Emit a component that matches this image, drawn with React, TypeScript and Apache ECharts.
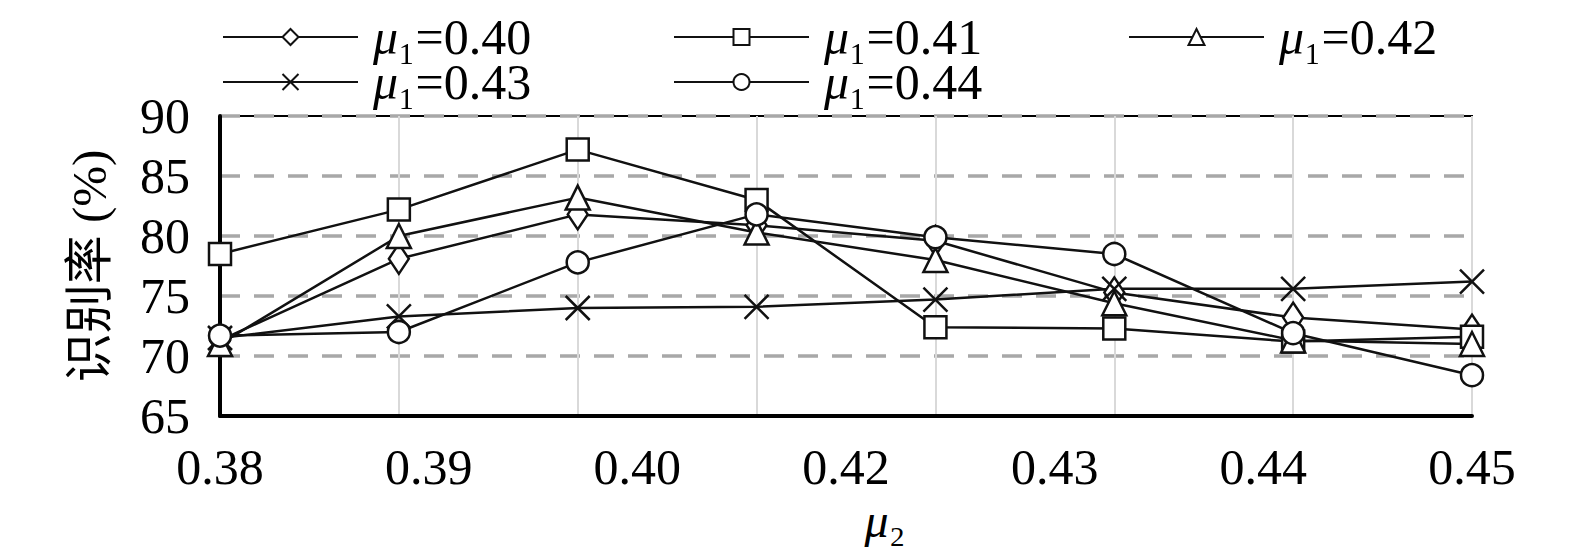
import { useEffect, useRef } from "react";
import * as echarts from "echarts";

// 8 measured points along x, but the printed axis only carries 7 labels
const pointIds = ["1", "2", "3", "4", "5", "6", "7", "8"];
const mu2Labels = ["0.38", "0.39", "0.40", "0.42", "0.43", "0.44", "0.45"];
const yTicks = { min: 65, max: 90, step: 5 };

const mu1Values = ["0.40", "0.41", "0.42", "0.43", "0.44"];

const rate040 = [71.3, 78.1, 81.8, 80.9, 79.6, 75.3, 73.2, 72.2];
const rate041 = [78.5, 82.2, 87.2, 83.0, 72.4, 72.3, 71.2, 71.6];
const rate042 = [71.0, 80.0, 83.2, 80.3, 78.0, 74.4, 71.3, 71.0];
const rate043 = [71.5, 73.3, 74.0, 74.1, 74.7, 75.6, 75.6, 76.2];
const rate044 = [71.7, 72.0, 77.8, 81.8, 79.9, 78.5, 71.9, 68.4];

const SERIF = "'Liberation Serif', 'DejaVu Serif', serif";
const CROSS = "path://M0,0L20,20M20,0L0,20";

export default function App() {
  const chartRef = useRef<HTMLDivElement>(null);

  useEffect(() => {
    if (!chartRef.current) return;
    const chart = echarts.init(chartRef.current, null, { renderer: "svg" });

    const rates = [rate040, rate041, rate042, rate043, rate044];
    const symbols: any[] = ["diamond", "rect", "triangle", CROSS, "circle"];
    const sizes: any[] = [[20, 30], 22, [24, 24], [24, 24], 22];
    const names = mu1Values.map((v) => `μ₁=${v}`);

    const richMu = {
      i: { fontFamily: SERIF, fontStyle: "italic", fontSize: 50, color: "#000" },
      n: { fontFamily: SERIF, fontSize: 50, color: "#000" },
    };

    const legendPos = [
      [222, 12],
      [673, 12],
      [1128, 12],
      [222, 57],
      [673, 57],
    ];

    chart.setOption({
      animation: false,
      backgroundColor: "#fff",
      legend: names.map((name, i) => ({
        data: [name],
        left: legendPos[i][0],
        top: legendPos[i][1],
        padding: 0,
        itemWidth: 135,
        itemHeight: 20,
        formatter: (n: string) => `{i|μ}{n|${n.slice(1)}}`,
        textStyle: { color: "#000", padding: [0, 0, 0, 10], rich: richMu },
      })),
      grid: {
        left: 220,
        right: 103,
        top: 116,
        bottom: 139,
        show: true,
        borderColor: "#000",
        borderWidth: 2,
        backgroundColor: "transparent",
      },
      xAxis: [
        {
          type: "category",
          data: pointIds,
          boundaryGap: false,
          axisLine: { show: true, lineStyle: { color: "#000", width: 4 } },
          axisTick: { show: false },
          axisLabel: { show: false },
          splitLine: { show: true, lineStyle: { color: "#d9d9d9", width: 2 } },
        },
        {
          type: "category",
          data: mu2Labels,
          boundaryGap: false,
          position: "bottom",
          axisLine: { show: false },
          axisTick: { show: false },
          splitLine: { show: false },
          axisLabel: { fontFamily: SERIF, fontSize: 50, color: "#000", margin: 26 },
          name: "{i|μ}{n|₂}",
          nameLocation: "middle",
          nameGap: 76,
          nameTextStyle: {
            padding: [0, 0, 0, 78],
            rich: {
              i: { fontFamily: SERIF, fontStyle: "italic", fontSize: 48, color: "#000" },
              n: { fontFamily: SERIF, fontSize: 48, color: "#000" },
            },
          },
        },
      ],
      yAxis: {
        type: "value",
        min: yTicks.min,
        max: yTicks.max,
        interval: yTicks.step,
        axisLine: { show: true, lineStyle: { color: "#000", width: 4 } },
        axisTick: { show: false },
        axisLabel: { fontFamily: SERIF, fontSize: 50, color: "#000", margin: 30 },
        splitLine: {
          show: true,
          lineStyle: { color: "#a8a8a8", width: 3.5, type: [20, 14] },
        },
        name: "识别率 (%)",
        nameLocation: "middle",
        nameGap: 106,
        nameTextStyle: {
          fontFamily: "'Liberation Serif', 'Noto Sans CJK SC', serif",
          fontSize: 49,
          color: "#000",
        },
      },
      series: names.map((name, i) => ({
        name,
        type: "line",
        xAxisIndex: 0,
        data: rates[i],
        symbol: symbols[i],
        symbolSize: sizes[i],
        showAllSymbol: true,
        lineStyle: { color: "#111", width: 2.5 },
        itemStyle: { color: i === 3 ? "transparent" : "#fff", borderColor: "#111", borderWidth: 2.5 },
      })),
    });

    return () => {
      chart.dispose();
    };
  }, []);

  return (
    <div
      ref={chartRef}
      style={{ position: "fixed", left: 0, top: 0, width: "100vw", height: "100vh" }}
    />
  );
}
